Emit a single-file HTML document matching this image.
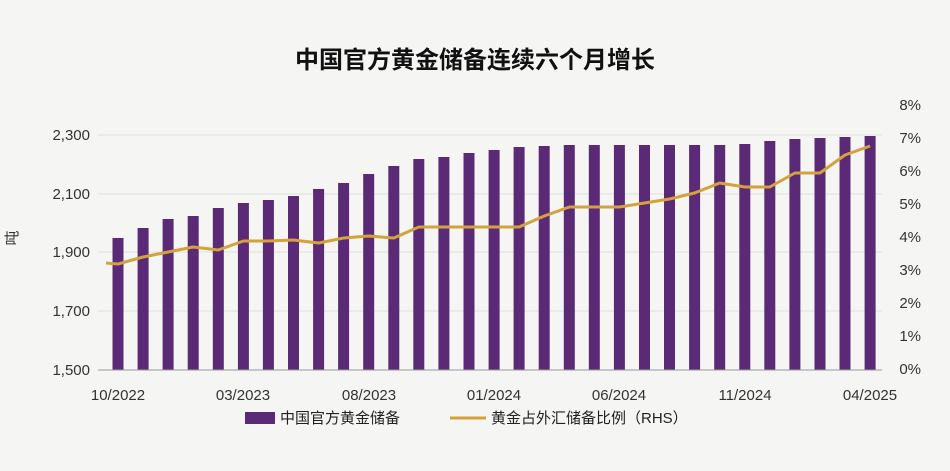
<!DOCTYPE html>
<html><head><meta charset="utf-8"><style>
body{margin:0;background:#f4f4f4;}
svg{display:block;font-family:"Liberation Sans","Noto Sans CJK SC",sans-serif;}
</style></head><body>
<svg width="950" height="471" viewBox="0 0 950 471">
<rect width="950" height="471" fill="#f5f5f4"/>
<text x="475" y="68" text-anchor="middle" font-size="24" font-weight="bold" fill="#111">中国官方黄金储备连续六个月增长</text>
<g stroke="#dedede" stroke-width="1">
<line x1="98" y1="135" x2="882" y2="135"/><line x1="98" y1="194" x2="882" y2="194"/>
<line x1="98" y1="252" x2="882" y2="252"/><line x1="98" y1="311" x2="882" y2="311"/>
</g>
<g fill="#333" font-size="15" text-anchor="end">
<text x="90" y="140">2,300</text><text x="90" y="199">2,100</text><text x="90" y="257">1,900</text><text x="90" y="316">1,700</text><text x="90" y="375">1,500</text>
</g>
<text transform="translate(17,238) rotate(-90)" font-size="15" fill="#333" text-anchor="middle">吨</text>
<g fill="#333" font-size="15" text-anchor="end">
<text x="921" y="110">8%</text><text x="921" y="143">7%</text><text x="921" y="176">6%</text><text x="921" y="209">5%</text><text x="921" y="242">4%</text><text x="921" y="275">3%</text><text x="921" y="308">2%</text><text x="921" y="341">1%</text><text x="921" y="374">0%</text>
</g>
<g fill="#5b2a77">
<rect x="112.5" y="238" width="11" height="132"/>
<rect x="137.6" y="228" width="11" height="142"/>
<rect x="162.6" y="219" width="11" height="151"/>
<rect x="187.7" y="216" width="11" height="154"/>
<rect x="212.8" y="208" width="11" height="162"/>
<rect x="237.9" y="203" width="11" height="167"/>
<rect x="262.9" y="200" width="11" height="170"/>
<rect x="288.0" y="196" width="11" height="174"/>
<rect x="313.1" y="189" width="11" height="181"/>
<rect x="338.1" y="183" width="11" height="187"/>
<rect x="363.2" y="174" width="11" height="196"/>
<rect x="388.3" y="166" width="11" height="204"/>
<rect x="413.3" y="159" width="11" height="211"/>
<rect x="438.4" y="157" width="11" height="213"/>
<rect x="463.5" y="153" width="11" height="217"/>
<rect x="488.6" y="150" width="11" height="220"/>
<rect x="513.6" y="147" width="11" height="223"/>
<rect x="538.7" y="146" width="11" height="224"/>
<rect x="563.8" y="145" width="11" height="225"/>
<rect x="588.8" y="145" width="11" height="225"/>
<rect x="613.9" y="145" width="11" height="225"/>
<rect x="639.0" y="145" width="11" height="225"/>
<rect x="664.0" y="145" width="11" height="225"/>
<rect x="689.1" y="145" width="11" height="225"/>
<rect x="714.2" y="145" width="11" height="225"/>
<rect x="739.3" y="144" width="11" height="226"/>
<rect x="764.3" y="141" width="11" height="229"/>
<rect x="789.4" y="139" width="11" height="231"/>
<rect x="814.5" y="138" width="11" height="232"/>
<rect x="839.5" y="137" width="11" height="233"/>
<rect x="864.6" y="136" width="11" height="234"/>
</g>
<line x1="98" y1="370" x2="882" y2="370" stroke="#999" stroke-width="1"/>
<polyline fill="none" stroke="#d4a23c" stroke-width="3" stroke-linejoin="round" points="106,263 118,264 143.1,257 168.1,252 193.2,247 218.3,250 243.4,241 268.4,241 293.5,240 318.6,243 343.6,238 368.7,236 393.8,238 418.8,227 443.9,227 469,227 494.1,227 519.1,227 544.2,216 569.3,207 594.3,207 619.4,207 644.5,203 669.5,199 694.6,193 719.7,183 744.8,187 769.8,187 794.9,173 820,173 845,155 870.1,146"/>
<g fill="#333" font-size="15" text-anchor="middle">
<text x="118" y="400">10/2022</text><text x="243" y="400">03/2023</text><text x="369" y="400">08/2023</text><text x="494" y="400">01/2024</text><text x="619" y="400">06/2024</text><text x="745" y="400">11/2024</text><text x="870" y="400">04/2025</text>
</g>
<rect x="245" y="412" width="30" height="12" fill="#5b2a77"/>
<text x="280" y="423" font-size="15" fill="#222">中国官方黄金储备</text>
<line x1="450" y1="418" x2="486" y2="418" stroke="#d4a23c" stroke-width="3"/>
<text x="491" y="423" font-size="15" fill="#222">黄金占外汇储备比例（RHS）</text>
</svg>
</body></html>
